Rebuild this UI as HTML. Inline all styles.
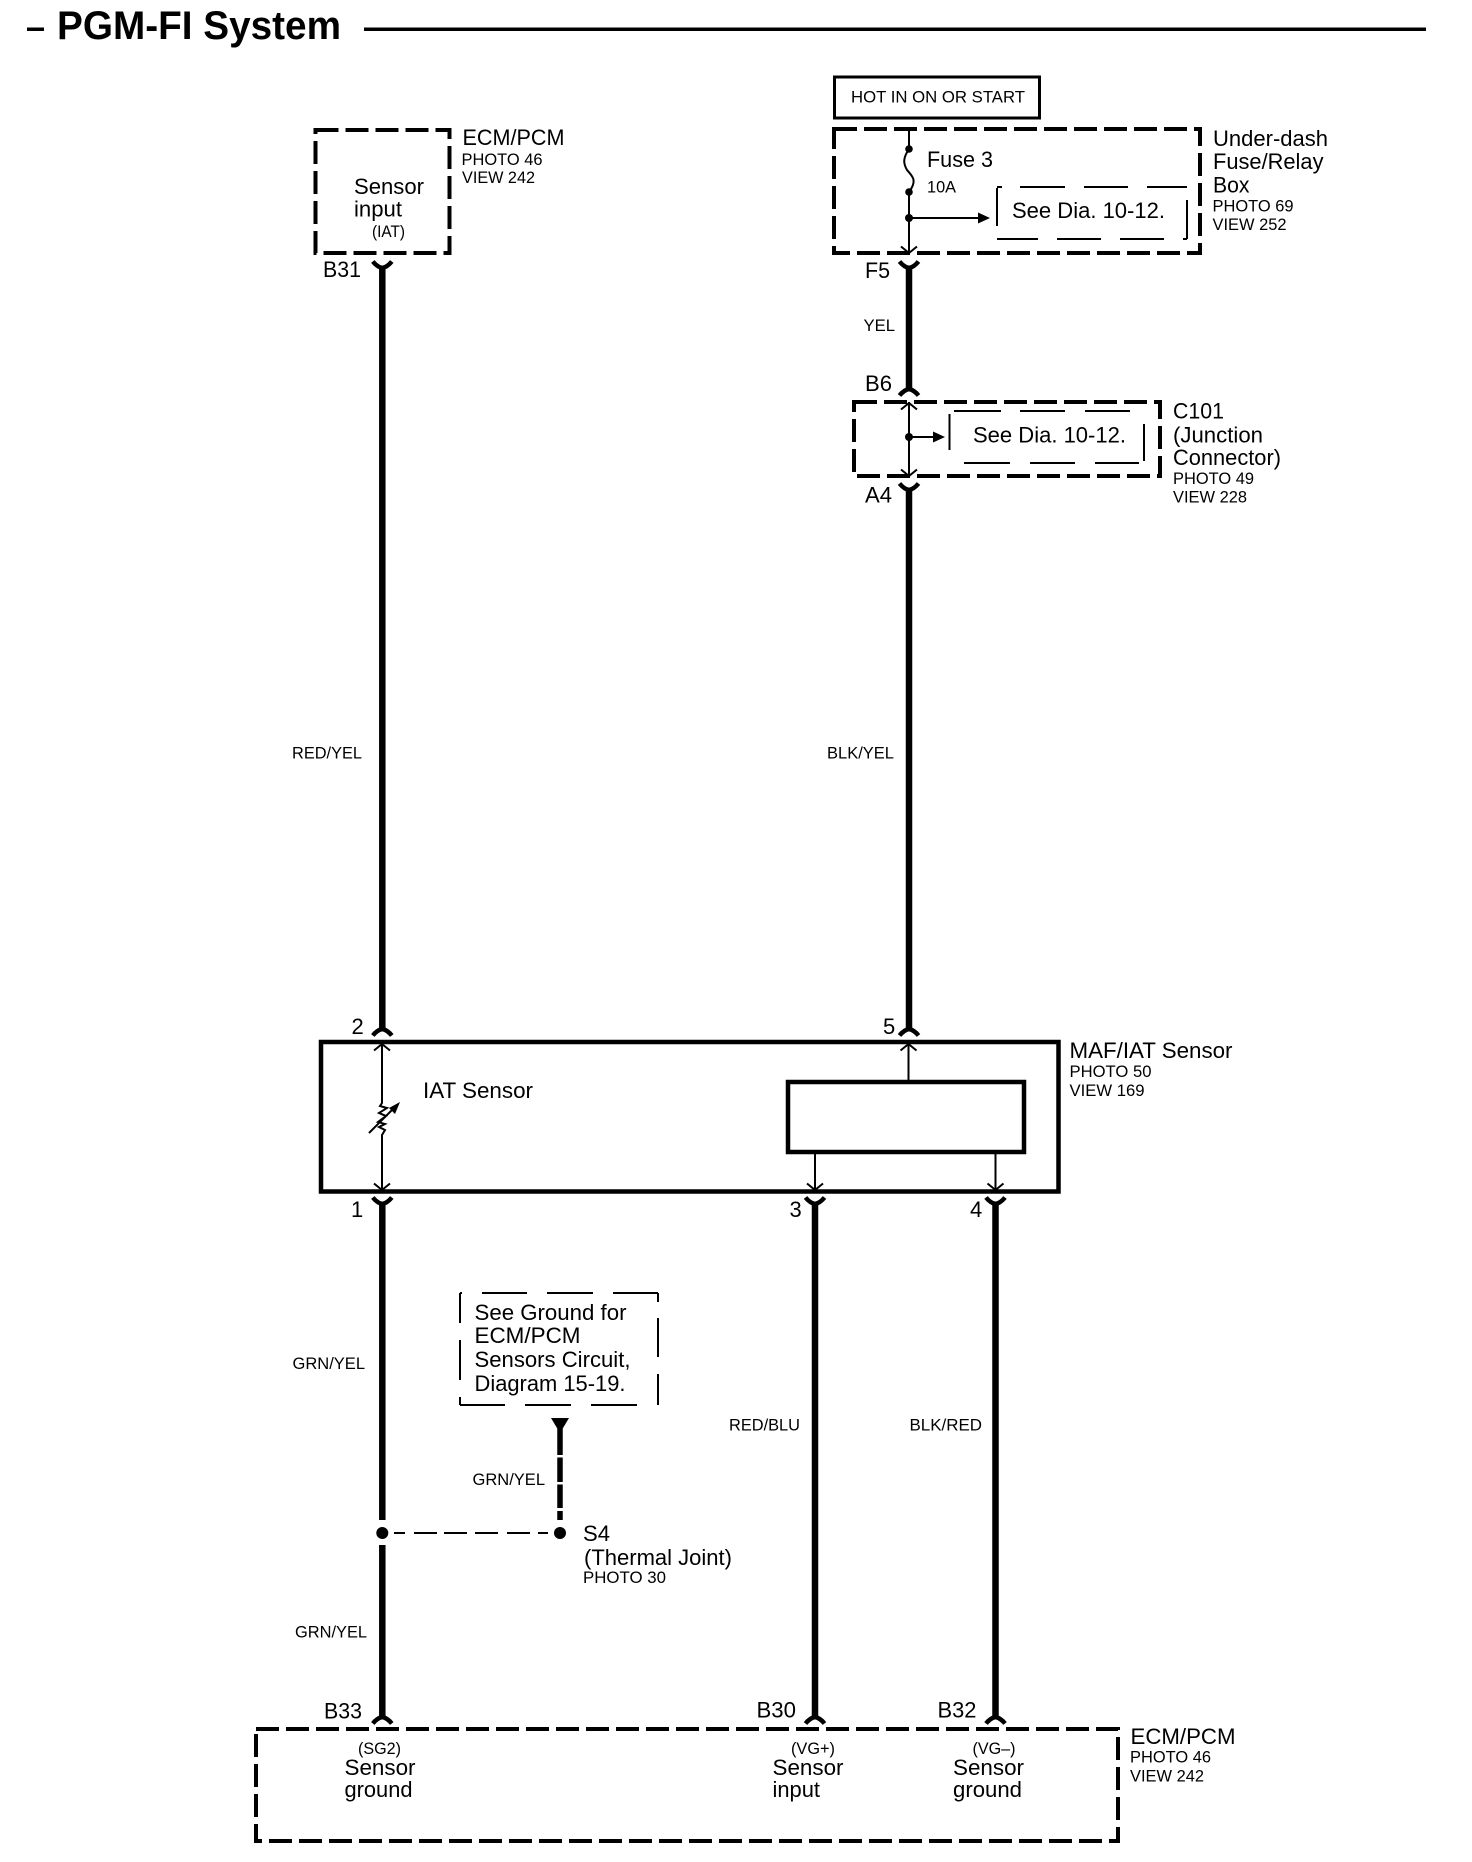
<!DOCTYPE html>
<html><head><meta charset="utf-8"><title>PGM-FI System</title>
<style>
html,body{margin:0;padding:0;background:#fff;width:1472px;height:1862px;overflow:hidden}
svg{display:block}
text{font-family:"Liberation Sans",Arial,sans-serif;fill:#000}
.b{font-size:22px}.s{font-size:16.5px}
.w{stroke:#000;stroke-width:6.500;fill:none}
.t{stroke:#000;stroke-width:2;fill:none}
.f{stroke:#000;stroke-width:4.500;fill:none}
.d{stroke:#000;stroke-width:4;fill:none;stroke-dasharray:23 7}
.n{stroke:#000;stroke-width:2;fill:none}
</style></head><body>
<svg xmlns="http://www.w3.org/2000/svg" width="1472" height="1862" viewBox="0 0 1472 1862">
<defs>
<path id="y" d="M-9.500 -6.500Q-5 -1 0 0Q5 -1 9.500 -6.500" class="f"/>
<path id="a" d="M-9.500 6.500Q-5 1 0 0Q5 1 9.500 6.500" class="f"/>
<path id="dn" d="M-8 -6.500L0 0L8 -6.500" class="t"/>
<path id="up" d="M-8 6.500L0 0L8 6.500" class="t"/>
</defs>

<!-- title -->
<rect x="27" y="27.500" width="17" height="3.500"/>
<text x="57" y="39" font-size="40" font-weight="bold" textLength="284" lengthAdjust="spacingAndGlyphs">PGM-FI System</text>
<rect x="364" y="27.500" width="1062" height="3.500"/>

<!-- thick wires -->
<path class="w" d="M382.300 268V1029M382.300 1203V1520M382.300 1545V1717M909 268V389M909 489V1029M815 1203V1717M995.500 1203V1717"/>
<use href="#y" x="382.300" y="268"/><use href="#y" x="909" y="268"/><use href="#a" x="909" y="389"/><use href="#y" x="909" y="490"/>
<use href="#a" x="382.300" y="1029"/><use href="#a" x="909" y="1029"/>
<use href="#y" x="382.300" y="1204"/><use href="#y" x="815" y="1204"/><use href="#y" x="995.500" y="1204"/>
<use href="#a" x="382.300" y="1717"/><use href="#a" x="815" y="1717"/><use href="#a" x="995.500" y="1717"/>

<!-- ECM/PCM top -->
<rect class="d" x="315.500" y="130" width="134" height="123"/>
<text x="462.500" y="145" class="b" textLength="102" lengthAdjust="spacingAndGlyphs">ECM/PCM</text>
<text x="461.500" y="165" class="s" textLength="81" lengthAdjust="spacingAndGlyphs">PHOTO 46</text>
<text x="462" y="183" class="s" textLength="73" lengthAdjust="spacingAndGlyphs">VIEW 242</text>
<text x="354" y="194" class="b" textLength="70" lengthAdjust="spacingAndGlyphs">Sensor</text>
<text x="354" y="216.500" class="b" textLength="48" lengthAdjust="spacingAndGlyphs">input</text>
<text x="372" y="237" class="s" textLength="33" lengthAdjust="spacingAndGlyphs">(IAT)</text>
<text x="323" y="277" class="b" textLength="38" lengthAdjust="spacingAndGlyphs">B31</text>

<!-- HOT -->
<rect x="834.500" y="77" width="205" height="41" fill="none" stroke="#000" stroke-width="3"/>
<text x="851" y="102.500" font-size="17" textLength="174" lengthAdjust="spacingAndGlyphs">HOT IN ON OR START</text>

<!-- Fuse box -->
<rect class="d" x="834" y="129" width="366" height="124"/>
<path class="t" d="M909 129V149"/>
<path d="M909 149C903 158 903 163 907 170C912 176 918 180 909 192" fill="none" stroke="#000" stroke-width="2"/>
<path class="t" d="M909 192V253"/>
<circle cx="909" cy="149" r="3.800"/><circle cx="909" cy="192" r="3.800"/><circle cx="909" cy="218" r="4"/>
<path class="n" d="M909 218H980"/><path d="M978 212.500L990 218L978 223.500Z"/>
<use href="#dn" x="909" y="253"/>
<text x="927" y="167" class="b" textLength="66" lengthAdjust="spacingAndGlyphs">Fuse 3</text>
<text x="927" y="192.500" class="s" textLength="29" lengthAdjust="spacingAndGlyphs">10A</text>
<path class="n" d="M997 187H1002M1020 187H1065M1084 187H1128M1147 187H1187M997 239H1038M1057 239H1101M1120 239H1164M1183 239H1187M997 188V226M1187 200V239"/>
<text x="1012" y="218" class="b" textLength="153" lengthAdjust="spacingAndGlyphs">See Dia. 10-12.</text>
<text x="1213" y="146" class="b" textLength="115" lengthAdjust="spacingAndGlyphs">Under-dash</text>
<text x="1213" y="169" class="b" textLength="110.500" lengthAdjust="spacingAndGlyphs">Fuse/Relay</text>
<text x="1213" y="192.500" class="b" textLength="36.500" lengthAdjust="spacingAndGlyphs">Box</text>
<text x="1212.500" y="211.500" class="s" textLength="81" lengthAdjust="spacingAndGlyphs">PHOTO 69</text>
<text x="1212.500" y="230" class="s" textLength="74" lengthAdjust="spacingAndGlyphs">VIEW 252</text>
<text x="865" y="278" class="b" textLength="25" lengthAdjust="spacingAndGlyphs">F5</text>
<text x="863.500" y="331" class="s" textLength="31.500" lengthAdjust="spacingAndGlyphs">YEL</text>
<text x="865" y="391" class="b" textLength="27" lengthAdjust="spacingAndGlyphs">B6</text>

<!-- C101 -->
<rect class="d" x="854" y="402" width="306" height="74"/>
<path class="t" d="M909 402V476"/>
<use href="#up" x="909" y="403"/><use href="#dn" x="909" y="476"/>
<circle cx="909" cy="437" r="4"/>
<path class="n" d="M909 437H936"/><path d="M933 431.500L945 437L933 442.500Z"/>
<path class="n" d="M949.500 414V450M1144 424V461M954 411H1001M1020 411H1065M1085 411H1130M964 463H1010M1030 463H1075M1095 463H1139"/>
<text x="973" y="442.500" class="b" textLength="153" lengthAdjust="spacingAndGlyphs">See Dia. 10-12.</text>
<text x="1173" y="418.500" class="b" textLength="51" lengthAdjust="spacingAndGlyphs">C101</text>
<text x="1173" y="442.500" class="b" textLength="90" lengthAdjust="spacingAndGlyphs">(Junction</text>
<text x="1173" y="465" class="b" textLength="108" lengthAdjust="spacingAndGlyphs">Connector)</text>
<text x="1173" y="484" class="s" textLength="81" lengthAdjust="spacingAndGlyphs">PHOTO 49</text>
<text x="1173" y="502.500" class="s" textLength="74" lengthAdjust="spacingAndGlyphs">VIEW 228</text>
<text x="865" y="502.500" class="b" textLength="27" lengthAdjust="spacingAndGlyphs">A4</text>

<!-- wire colours -->
<text x="292" y="758.500" class="s" textLength="70" lengthAdjust="spacingAndGlyphs">RED/YEL</text>
<text x="827" y="758.500" class="s" textLength="67" lengthAdjust="spacingAndGlyphs">BLK/YEL</text>

<!-- MAF/IAT -->
<rect x="321" y="1042" width="737.500" height="149.500" fill="none" stroke="#000" stroke-width="4.500"/>
<rect x="788" y="1082" width="236" height="70" fill="none" stroke="#000" stroke-width="4.500"/>
<path class="t" d="M382 1044V1103L380 1106L387 1108L379 1113L386 1116L378 1122L385 1124L379 1127L385 1130L382 1135V1190"/>
<use href="#up" x="382" y="1044"/><use href="#dn" x="382" y="1190"/>
<path d="M369 1133L395 1107" stroke="#000" stroke-width="2" fill="none"/><path d="M400 1102L389 1108L395 1114Z"/>
<path class="t" d="M908.500 1044V1082M815 1152V1190M995.500 1152V1190"/>
<use href="#up" x="908.500" y="1044"/><use href="#dn" x="815" y="1190"/><use href="#dn" x="995.500" y="1190"/>
<text x="423" y="1098" class="b" textLength="110" lengthAdjust="spacingAndGlyphs">IAT Sensor</text>
<text x="1069.500" y="1058" class="b" textLength="163" lengthAdjust="spacingAndGlyphs">MAF/IAT Sensor</text>
<text x="1069.500" y="1077" class="s" textLength="82" lengthAdjust="spacingAndGlyphs">PHOTO 50</text>
<text x="1069.500" y="1096" class="s" textLength="75" lengthAdjust="spacingAndGlyphs">VIEW 169</text>
<text x="351.500" y="1034" class="b">2</text>
<text x="883" y="1034" class="b">5</text>
<text x="351" y="1217" class="b">1</text>
<text x="789.500" y="1217" class="b">3</text>
<text x="970" y="1217" class="b">4</text>

<!-- ground note -->
<path class="n" d="M460 1293H462M482 1293H527M547 1293H593M613 1293H658M460 1405H505M525 1405H571M591 1405H637M460 1293V1323M460 1340V1380M460 1397V1405M658 1293V1302M658 1318V1357M658 1374V1405"/>
<text x="474.500" y="1320" class="b" textLength="152" lengthAdjust="spacingAndGlyphs">See Ground for</text>
<text x="474.500" y="1343" class="b" textLength="106" lengthAdjust="spacingAndGlyphs">ECM/PCM</text>
<text x="474.500" y="1367" class="b" textLength="156" lengthAdjust="spacingAndGlyphs">Sensors Circuit,</text>
<text x="474.500" y="1391" class="b" textLength="151" lengthAdjust="spacingAndGlyphs">Diagram 15-19.</text>
<path d="M551 1418H569L560 1433Z"/>
<path d="M560 1428V1455M560 1457.500V1482M560 1484.500V1508M560 1511V1520" stroke="#000" stroke-width="5.500" fill="none"/>
<text x="472.500" y="1485" class="s" textLength="72.500" lengthAdjust="spacingAndGlyphs">GRN/YEL</text>
<text x="292.500" y="1369" class="s" textLength="72.500" lengthAdjust="spacingAndGlyphs">GRN/YEL</text>
<text x="295" y="1637.500" class="s" textLength="72" lengthAdjust="spacingAndGlyphs">GRN/YEL</text>
<text x="729" y="1430.500" class="s" textLength="71" lengthAdjust="spacingAndGlyphs">RED/BLU</text>
<text x="909.500" y="1430.500" class="s" textLength="72.500" lengthAdjust="spacingAndGlyphs">BLK/RED</text>
<circle cx="382.300" cy="1533" r="6"/><circle cx="560" cy="1533" r="6"/>
<path d="M394 1533H405M414 1533H437M444 1533H467M475 1533H498M507 1533H530M538 1533H548" stroke="#000" stroke-width="2" fill="none"/>
<text x="583" y="1541" class="b" textLength="27" lengthAdjust="spacingAndGlyphs">S4</text>
<text x="584" y="1565" class="b" textLength="148" lengthAdjust="spacingAndGlyphs">(Thermal Joint)</text>
<text x="583" y="1583" class="s" textLength="83" lengthAdjust="spacingAndGlyphs">PHOTO 30</text>

<!-- ECM/PCM bottom -->
<rect class="d" x="256" y="1729" width="862" height="112"/>
<text x="324" y="1718.500" class="b" textLength="38" lengthAdjust="spacingAndGlyphs">B33</text>
<text x="756.500" y="1717.500" class="b" textLength="39.500" lengthAdjust="spacingAndGlyphs">B30</text>
<text x="937.500" y="1717.500" class="b" textLength="39" lengthAdjust="spacingAndGlyphs">B32</text>
<text x="358" y="1754" class="s" textLength="43" lengthAdjust="spacingAndGlyphs">(SG2)</text>
<text x="344.500" y="1775" class="b" textLength="71" lengthAdjust="spacingAndGlyphs">Sensor</text>
<text x="344.500" y="1797" class="b" textLength="68" lengthAdjust="spacingAndGlyphs">ground</text>
<text x="791" y="1754" class="s" textLength="44" lengthAdjust="spacingAndGlyphs">(VG+)</text>
<text x="772.500" y="1775" class="b" textLength="71" lengthAdjust="spacingAndGlyphs">Sensor</text>
<text x="772.500" y="1797" class="b" textLength="47.500" lengthAdjust="spacingAndGlyphs">input</text>
<text x="972.500" y="1754" class="s" textLength="43" lengthAdjust="spacingAndGlyphs">(VG–)</text>
<text x="953" y="1775" class="b" textLength="71" lengthAdjust="spacingAndGlyphs">Sensor</text>
<text x="953" y="1797" class="b" textLength="69" lengthAdjust="spacingAndGlyphs">ground</text>
<text x="1130.500" y="1744" class="b" textLength="105" lengthAdjust="spacingAndGlyphs">ECM/PCM</text>
<text x="1130" y="1762.500" class="s" textLength="81" lengthAdjust="spacingAndGlyphs">PHOTO 46</text>
<text x="1130" y="1781.500" class="s" textLength="74" lengthAdjust="spacingAndGlyphs">VIEW 242</text>
</svg>
</body></html>
